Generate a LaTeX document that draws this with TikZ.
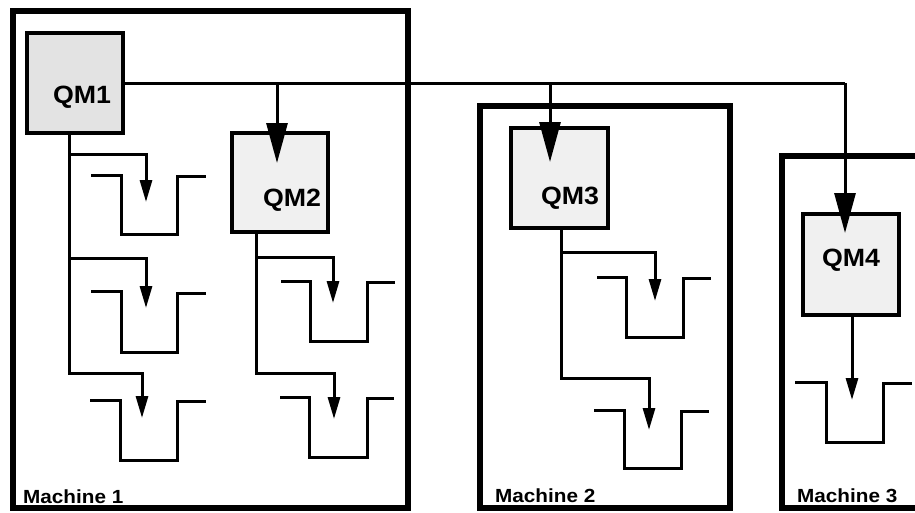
\documentclass[tikz,border=0pt]{standalone}
\usepackage{fontspec}
\usepackage{graphicx}
\setmainfont{Liberation Sans}
\usetikzlibrary{arrows.meta}
\tikzset{
  machine/.style={draw, line width=6pt, inner sep=0pt},
  qmbox/.style={draw, line width=3.2pt, inner sep=0pt, minimum width=96pt, minimum height=100pt},
  qmtext/.style={inner sep=0pt, font=\fontsize{25}{25}\selectfont\bfseries},
  mtext/.style={inner sep=0pt, anchor=base west, font=\fontsize{19}{19}\selectfont\bfseries},
  conn/.style={line width=3pt, line join=miter},
  bigarrow/.style={conn, -{Triangle[length=40pt,width=21pt]}},
  smallarrow/.style={conn, -{Triangle[length=22pt,width=12pt]}},
  queue/.style={line width=3pt, line join=miter}
}
\begin{document}
\begin{tikzpicture}[x=1pt,y=-1pt]
\clip (0,0) rectangle (915,512);
\fill[white] (0,0) rectangle (915,512);
% machines
\node[machine, minimum width=395pt, minimum height=497pt] (m1) at (210,259.5) {};
\node[machine, minimum width=250.5pt, minimum height=402pt] (m2) at (604.75,307) {};
\node[machine, minimum width=160pt, minimum height=352.5pt] (m3) at (862,331.75) {};
\node[mtext] (m1t) at (23,503) {\scalebox{1.09}[1]{Machine 1}};
\node[mtext] (m2t) at (495,502) {\scalebox{1.09}[1]{Machine 2}};
\node[mtext] (m3t) at (797,502) {\scalebox{1.09}[1]{Machine 3}};
% queue managers
\node[qmbox, fill=gray!22] (qm1) at (75,83) {};
\node[qmbox, fill=gray!12, minimum height=99pt] (qm2) at (280,182.5) {};
\node[qmbox, fill=gray!12, minimum width=97pt] (qm3) at (559.5,178) {};
\node[qmbox, fill=gray!12, minimum height=101pt] (qm4) at (851,264.5) {};
\node[qmtext] (qm1t) at (82,97) {\scalebox{1.07}[1]{QM1}};
\node[qmtext] (qm2t) at (292,200) {\scalebox{1.07}[1]{QM2}};
\node[qmtext] (qm3t) at (570,198) {\scalebox{1.07}[1]{QM3}};
\node[qmtext] (qm4t) at (851,260) {\scalebox{1.07}[1]{QM4}};
% channel coordinates
\coordinate (j2) at (277,83);
\coordinate (j3) at (550,83);
\coordinate (j4) at (845,83);
\coordinate (t2) at (277,163);
\coordinate (t3) at (550,162);
\coordinate (t4) at (845,233);
\draw[conn] (qm1.east) -- (j4);
\draw[bigarrow] (j2) -- (t2);
\draw[bigarrow] (j3) -- (t3);
\draw[bigarrow] (j4) -- (t4);
% QM1 local queues
\coordinate (a0) at (69,133);
\coordinate (a1) at (69,154);
\coordinate (a2) at (69,258);
\coordinate (q11) at (146,202);
\coordinate (q12) at (146,308);
\coordinate (q13) at (142,418);
\draw[smallarrow] (a0) |- (146,154) -- (q11);
\draw[smallarrow] (a1) |- (146,258) -- (q12);
\draw[smallarrow] (a2) |- (142,373) -- (q13);
\draw[queue] (91,175) -- (121,175) -- (121,234) -- (177,234) -- (177,176) -- (206,176);
\draw[queue] (91,291) -- (121,291) -- (121,352) -- (177,352) -- (177,293) -- (206,293);
\draw[queue] (90,400) -- (120,400) -- (120,460) -- (177,460) -- (177,401) -- (206,401);
% QM2 local queues
\coordinate (b0) at (256,232);
\coordinate (b1) at (256,257);
\coordinate (q21) at (333,303);
\coordinate (q22) at (334,419);
\draw[smallarrow] (b0) |- (333,257) -- (q21);
\draw[smallarrow] (b1) |- (334,373) -- (q22);
\draw[queue] (281,281) -- (310,281) -- (310,341) -- (367,341) -- (367,282) -- (395,282);
\draw[queue] (280,397) -- (309,397) -- (309,457) -- (367,457) -- (367,398) -- (394,398);
% QM3 local queues
\coordinate (c0) at (561,228);
\coordinate (c1) at (561,252);
\coordinate (q31) at (655,301);
\coordinate (q32) at (649,430);
\draw[smallarrow] (c0) |- (655,252) -- (q31);
\draw[smallarrow] (c1) |- (649,378) -- (q32);
\draw[queue] (597,277) -- (626,277) -- (626,337) -- (683,337) -- (683,278) -- (711,278);
\draw[queue] (594,410) -- (624,410) -- (624,468) -- (681,468) -- (681,411) -- (709,411);
% QM4 local queue
\coordinate (d0) at (852,315);
\coordinate (q41) at (852,400);
\draw[smallarrow] (d0) -- (q41);
\draw[queue] (795,382) -- (826,382) -- (826,442) -- (883,442) -- (883,383) -- (912,383);
\end{tikzpicture}
\end{document}
